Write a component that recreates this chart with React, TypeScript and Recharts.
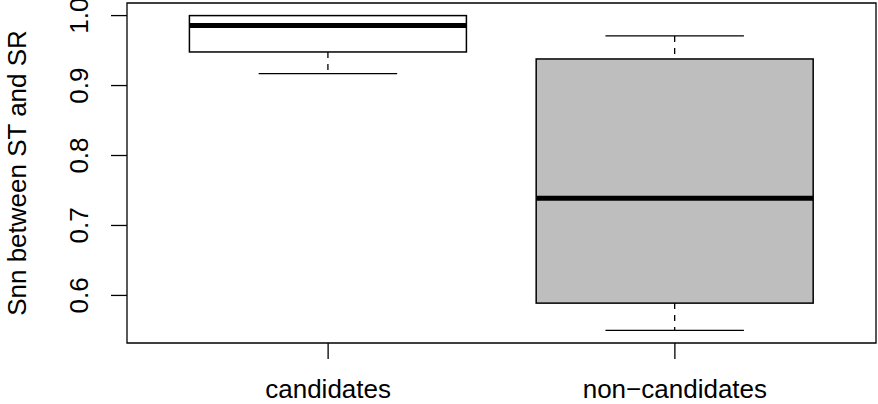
import { ComposedChart, Bar, XAxis, YAxis, ReferenceArea, Label } from 'recharts';

// box statistics, one entry per group
const GROUPS = ['candidates', 'non\u2212candidates'];
const WHISKER_LOW = [0.917, 0.55];
const Q1 = [0.948, 0.589];
const MEDIAN = [0.986, 0.739];
const Q3 = [1.0, 0.938];
const WHISKER_HIGH = [1.0, 0.971];
const FILLS = ['#ffffff', '#bebebe'];
const Y_TICKS = [0.6, 0.7, 0.8, 0.9, 1.0];

const FONT = '"Liberation Sans", Arial, Helvetica, sans-serif';
const W = 878;
const H = 404;
const MARGIN = { top: 3, right: 2, bottom: 0, left: 0 };
const Y_AXIS_W = 127;
const X_AXIS_H = 61;
const PLOT_W = W - MARGIN.left - MARGIN.right - Y_AXIS_W;
// R boxplot: xlim 0.5..2.5, widened by 4% on each side
const X_PAD = (PLOT_W * 0.08) / 2.16;

const yMin = Math.min(...WHISKER_LOW);
const yMax = Math.max(...WHISKER_HIGH);
const Y_DOMAIN = [yMin - (yMax - yMin) * 0.04, yMax + (yMax - yMin) * 0.04];

const data = GROUPS.map((name, i) => ({
  name,
  range: [WHISKER_LOW[i], WHISKER_HIGH[i]],
  lo: WHISKER_LOW[i],
  q1: Q1[i],
  median: MEDIAN[i],
  q3: Q3[i],
  hi: WHISKER_HIGH[i],
  fill: FILLS[i],
}));

function BoxShape(props: any) {
  const { x, y, width, height } = props;
  const d = props.payload ?? props;
  const top = Math.min(y, y + height);
  const bottom = Math.max(y, y + height);
  const yOf = (v: number) => (d.hi === d.lo ? top : top + ((d.hi - v) / (d.hi - d.lo)) * (bottom - top));
  const xc = x + width / 2;
  const cap = width / 4;
  return (
    <g>
      {/* whiskers */}
      <line x1={xc} x2={xc} y1={yOf(d.hi)} y2={yOf(d.q3)} stroke="#000" strokeWidth={1.3} strokeDasharray="6 6" />
      <line x1={xc} x2={xc} y1={yOf(d.q1)} y2={yOf(d.lo)} stroke="#000" strokeWidth={1.3} strokeDasharray="6 6" />
      <line x1={xc - cap} x2={xc + cap} y1={yOf(d.hi)} y2={yOf(d.hi)} stroke="#000" strokeWidth={1.3} />
      <line x1={xc - cap} x2={xc + cap} y1={yOf(d.lo)} y2={yOf(d.lo)} stroke="#000" strokeWidth={1.3} />
      {/* box + median */}
      <rect x={x} y={yOf(d.q3)} width={width} height={yOf(d.q1) - yOf(d.q3)} fill={d.fill} stroke="#000" strokeWidth={1.5} />
      <line x1={x} x2={x + width} y1={yOf(d.median)} y2={yOf(d.median)} stroke="#000" strokeWidth={5} />
    </g>
  );
}

function YTick({ x, y, payload }: any) {
  return (
    <text x={x} y={y} transform={`rotate(-90 ${x} ${y})`} textAnchor="middle" fontSize={26} fontFamily={FONT} fill="#000">
      {Number(payload.value).toFixed(1)}
    </text>
  );
}

function YTitle({ viewBox }: any) {
  const cx = viewBox.x + 26;
  const cy = viewBox.y + viewBox.height / 2;
  return (
    <text x={cx} y={cy} transform={`rotate(-90 ${cx} ${cy})`} textAnchor="middle" fontSize={26} fontFamily={FONT} fill="#000">
      Snn between ST and SR
    </text>
  );
}

export default function App() {
  return (
    <div style={{ position: 'absolute', left: 0, top: 0, background: '#fff' }}>
      <ComposedChart width={W} height={H} data={data} margin={MARGIN} barCategoryGap="10%">
        <XAxis
          dataKey="name"
          type="category"
          height={X_AXIS_H}
          padding={{ left: X_PAD, right: X_PAD }}
          axisLine={false}
          tickLine={{ stroke: '#000', strokeWidth: 1.3 }}
          tickSize={16}
          tickMargin={21}
          tick={{ fill: '#000', fontSize: 26, fontFamily: FONT }}
        />
        <XAxis xAxisId="frame" type="number" domain={[0, 1]} allowDataOverflow hide />
        <YAxis
          type="number"
          width={Y_AXIS_W}
          domain={Y_DOMAIN}
          allowDataOverflow
          ticks={Y_TICKS}
          axisLine={false}
          tickLine={{ stroke: '#000', strokeWidth: 1.3 }}
          tickSize={16}
          tickMargin={23}
          tick={<YTick />}
        >
          <Label content={<YTitle />} />
        </YAxis>
        <Bar dataKey="range" shape={<BoxShape />} isAnimationActive={false} />
        <ReferenceArea
          xAxisId="frame"
          y1={Y_DOMAIN[0]}
          y2={Y_DOMAIN[1]}
          fill="none"
          stroke="#000"
          strokeWidth={1.3}
        />
      </ComposedChart>
    </div>
  );
}
